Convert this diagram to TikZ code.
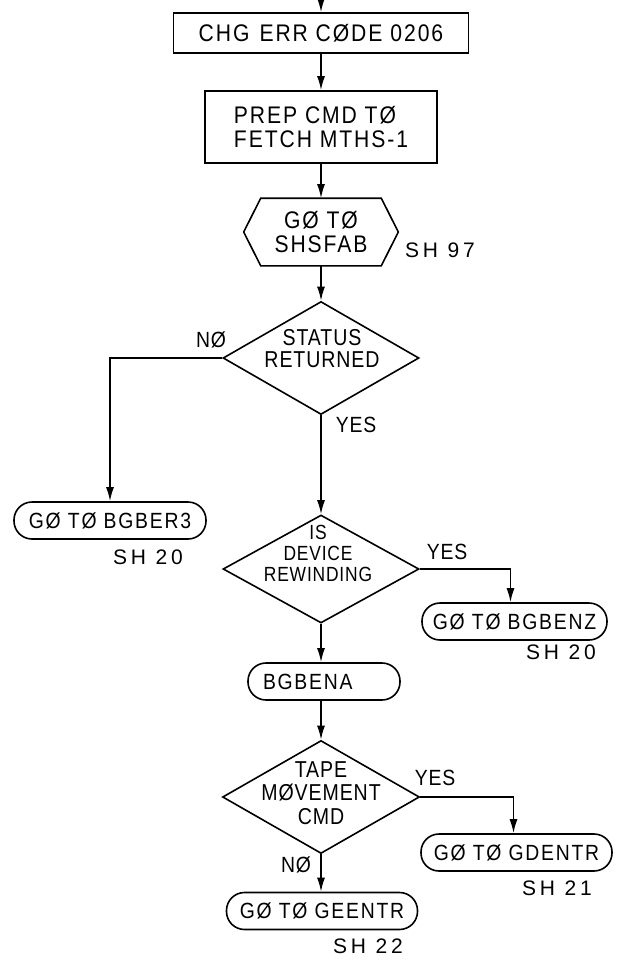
\documentclass[tikz,border=0pt]{standalone}
\usepackage{fontspec}
\setmainfont{Liberation Sans}
\newfontfamily\boxfont[FakeStretch=0.88,LetterSpace=8]{Liberation Sans}
\newfontfamily\termfont[FakeStretch=0.88,LetterSpace=8]{Liberation Sans}
\newfontfamily\decfont[FakeStretch=0.85,LetterSpace=4]{Liberation Sans}
\newfontfamily\labfont[FakeStretch=0.88,LetterSpace=4]{Liberation Sans}
\newfontfamily\shfont[LetterSpace=18]{Liberation Sans}
\usetikzlibrary{arrows.meta,shapes.geometric}
\begin{document}
\begin{tikzpicture}[x=1pt,y=-1pt,
  line width=1.6pt,
  every node/.style={inner sep=0pt},
  procbox/.style={draw, rectangle, font=\boxfont\fontsize{24}{24}\selectfont, align=left},
  termbox/.style={draw, rounded corners=18pt, minimum height=37pt, font=\termfont\fontsize{22}{24}\selectfont},
  decbox/.style={draw, diamond},
  dectext/.style={align=center, font=\decfont\fontsize{23}{#1}\selectfont},
  dectextsmall/.style={align=center, font=\decfont\fontsize{20.5}{#1}\selectfont},
  lab/.style={font=\labfont\fontsize{22}{22}\selectfont},
  shlab/.style={font=\shfont\fontsize{21}{22}\selectfont},
  arr/.style={-{Latex[length=14pt,width=8pt]}}]
\useasboundingbox (0,0) rectangle (621,972);

\coordinate (top) at (321,0);
\node[procbox, minimum width=295pt, minimum height=40pt] (b1) at (321,33) {CHG\hspace{10pt}ERR CØDE\hspace{8pt}0206};
\node[procbox, minimum width=232pt, minimum height=72pt] (b2) at (321,127) {PREP CMD TØ\\FETCH MTHS-1};

\node[minimum width=153pt, minimum height=66pt, align=center, font=\boxfont\fontsize{24}{24}\selectfont] (hx) at (321,232) {GØ TØ\\SHSFAB};
\draw (hx.west) -- ([xshift=17pt]hx.north west) -- ([xshift=-17pt]hx.north east) -- (hx.east)
  -- ([xshift=-17pt]hx.south east) -- ([xshift=17pt]hx.south west) -- cycle;
\node[shlab] (sh97) at (440,250) {SH 97};

\node[decbox, minimum width=196pt, minimum height=113pt] (d1) at (321,358) {};
\node[dectext=22] (d1t) at (322,349) {STATUS\\RETURNED};
\node[lab] (no1) at (211,340) {NØ};
\node[lab] (yes1) at (356,425) {YES};

\node[termbox, minimum width=192pt] (t1) at (110,520.5) {GØ TØ BGBER3};
\node[shlab] (sh20a) at (148,557) {SH 20};

\node[decbox, minimum width=196pt, minimum height=108pt] (d2) at (321,569) {};
\node[dectextsmall=21] (d2t) at (318,553) {IS\\DEVICE\\REWINDING};
\node[lab] (yes2) at (447,552) {YES};

\node[termbox, minimum width=185pt] (t2) at (514.5,621.5) {GØ TØ BGBENZ};
\node[shlab] (sh20b) at (561,652) {SH 20};

\node[termbox, minimum width=152pt, text width=122pt, inner xsep=15pt, align=left] (t3) at (324,681.5) {BGBENA};

\node[decbox, minimum width=197pt, minimum height=113pt] (d3) at (321,797) {};
\node[dectext=23.5] (d3t) at (321,793) {TAPE\\MØVEMENT\\CMD};
\node[lab] (yes3) at (435,778) {YES};
\node[lab] (no3) at (296,865) {NØ};

\node[termbox, minimum width=191pt] (t4) at (516.5,852.5) {GØ TØ GDENTR};
\node[shlab] (sh21) at (557,888) {SH 21};

\node[termbox, minimum width=191pt] (t5) at (322,911) {GØ TØ GEENTR};
\node[shlab] (sh22) at (368,946) {SH 22};

\draw[arr] (top) -- (b1.north);
\draw[arr] (b1.south) -- (b2.north);
\draw[arr] (b2.south) -- (hx.north);
\draw[arr] (hx.south) -- (d1.north);
\draw[arr] (d1.west) -| (t1.north);
\draw[arr] (d1.south) -- (d2.north);
\draw[arr] (d2.east) -| ([xshift=-4pt]t2.north);
\draw[arr] (d2.south) -- (d2.south |- t3.north);
\draw[arr] (d3.north |- t3.south) -- (d3.north);
\draw[arr] (d3.east) -| ([xshift=-3pt]t4.north);
\draw[arr] (d3.south) -- (d3.south |- t5.north);
\end{tikzpicture}
\end{document}
